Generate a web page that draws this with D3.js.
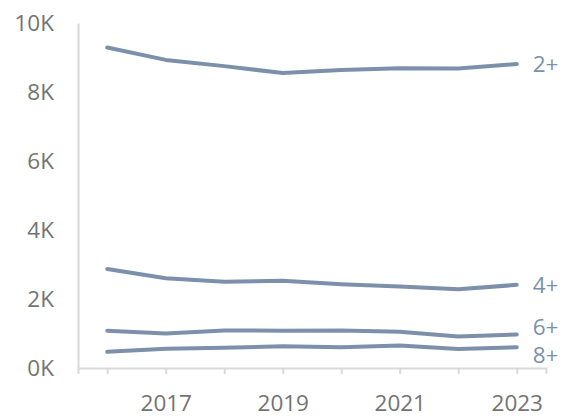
<!DOCTYPE html>
<html><head><meta charset="utf-8">
<script src="https://cdn.jsdelivr.net/npm/d3@7"></script>
<style>body{margin:0;background:#fff}svg{display:block}</style>
</head><body>
<svg id="chart" width="566" height="419"></svg>
<script>
const years = [2016, 2017, 2018, 2019, 2020, 2021, 2022, 2023];
const seriesNames = ["2+", "4+", "6+", "8+"];
const values2 = [9290, 8930, 8750, 8550, 8640, 8690, 8680, 8810];
const values4 = [2870, 2600, 2500, 2530, 2430, 2360, 2280, 2410];
const values6 = [1080, 1000, 1090, 1080, 1090, 1050, 910, 970];
const values8 = [470, 560, 590, 630, 600, 650, 550, 600];
const yTicks = [0, 2000, 4000, 6000, 8000, 10000];
const xTickLabels = [2017, 2019, 2021, 2023];

const series = [values2, values4, values6, values8].map((v, i) => ({name: seriesNames[i], values: v}));

const svg = d3.select("#chart");
const lineColor = "#7c90ac";
const textColor = "#737373";
const axisColor = "#d9d9d9";
const fontSize = "22.5px";

const x = d3.scaleLinear().domain([2015.5, 2023.5]).range([78, 546]);
const y = d3.scaleLinear().domain([0, 10000]).range([368, 23]);

// y axis
const yAxis = svg.append("g").attr("transform", "translate(78,0)")
  .call(d3.axisLeft(y).tickValues(yTicks).tickSize(0).tickPadding(24)
    .tickFormat(d => (d / 1000) + "K"));
yAxis.select(".domain").attr("stroke", axisColor).attr("stroke-width", 2);
yAxis.selectAll("text").attr("fill", textColor).style("font-family", "Open Sans").style("font-size", fontSize);

// x axis
const xAxis = svg.append("g").attr("transform", "translate(0,368)")
  .call(d3.axisBottom(x).tickValues(years).tickSize(6).tickSizeOuter(6).tickPadding(21)
    .tickFormat(d => xTickLabels.includes(d) ? String(d) : ""));
xAxis.select(".domain").attr("stroke", axisColor).attr("stroke-width", 2);
xAxis.selectAll(".tick line").attr("stroke", axisColor).attr("stroke-width", 2);
xAxis.selectAll("text").attr("fill", textColor).style("font-family", "Open Sans").style("font-size", fontSize);

const line = d3.line().x((d, i) => x(years[i])).y(d => y(d)).curve(d3.curveLinear);

svg.append("g").selectAll("path").data(series).join("path")
  .attr("d", d => line(d.values))
  .attr("fill", "none").attr("stroke", lineColor).attr("stroke-width", 4)
  .attr("stroke-linecap", "round").attr("stroke-linejoin", "round");

// labels with simple collision avoidance
const minGap = 28;
const labels = series.map(s => ({name: s.name, y: y(s.values[s.values.length - 1])}));
labels.sort((a, b) => a.y - b.y);
for (let iter = 0; iter < 50; iter++) {
  for (let i = 1; i < labels.length; i++) {
    const d = labels[i].y - labels[i - 1].y;
    if (d < minGap) {
      const shift = (minGap - d) / 2;
      labels[i].y += shift; labels[i - 1].y -= shift;
    }
  }
}
svg.append("g").selectAll("text").data(labels).join("text")
  .attr("x", x(years[years.length - 1]) + 16)
  .attr("y", d => d.y)
  .attr("dy", "0.35em")
  .attr("fill", lineColor)
  .style("font-family", "Open Sans").style("font-size", fontSize)
  .text(d => d.name);
</script>
</body></html>
